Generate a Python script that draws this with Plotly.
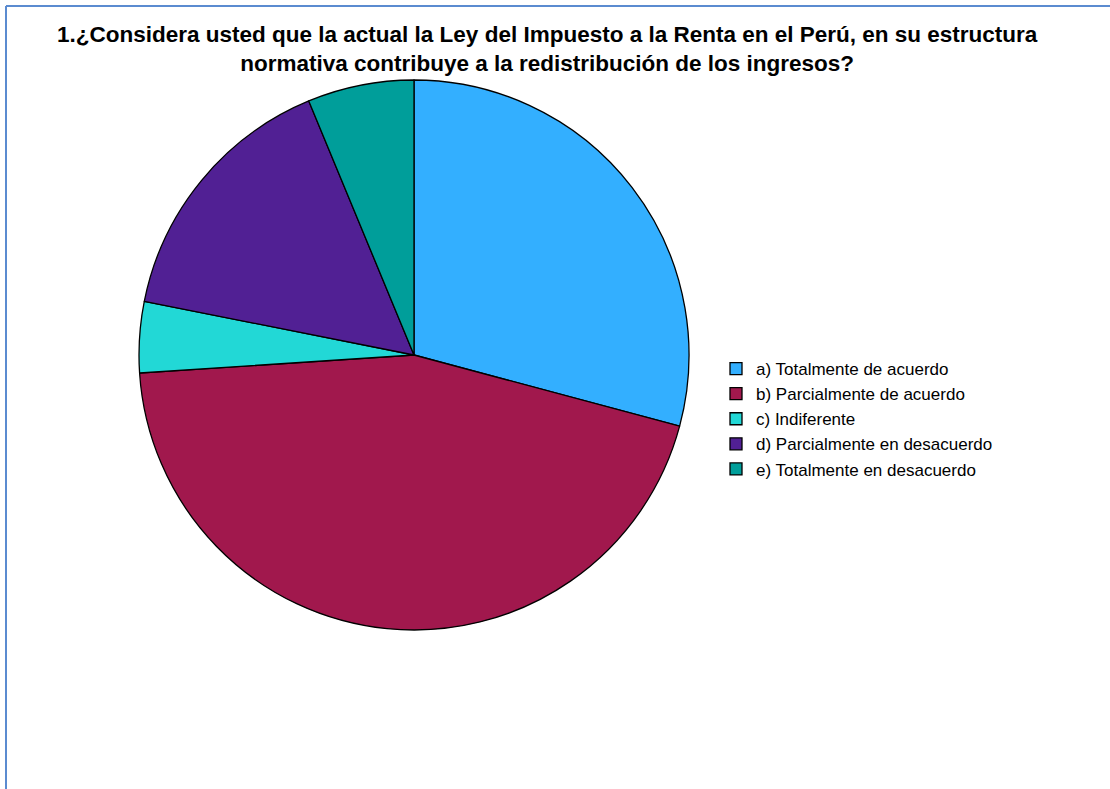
import plotly.graph_objects as go

categories = [
    "a) Totalmente de acuerdo",
    "b) Parcialmente de acuerdo",
    "c) Indiferente",
    "d) Parcialmente en desacuerdo",
    "e) Totalmente en desacuerdo",
]
values = [28, 43, 4, 15, 6]
colors = ["#33AFFF", "#A1184D", "#22D8D6", "#512094", "#009E9A"]
title_lines = [
    "1.¿Considera usted que la actual la Ley del Impuesto a la Renta en el Perú, en su estructura",
    "normativa contribuye a la redistribución de los ingresos?",
]

W, H = 1110, 789
FONT = "Arial, Liberation Sans, sans-serif"

fig = go.Figure(go.Pie(
    labels=categories,
    values=values,
    sort=False,
    direction="clockwise",
    rotation=0,
    textinfo="none",
    hoverinfo="label+percent",
    marker=dict(colors=colors, line=dict(color="black", width=1.3)),
    domain=dict(x=[(414 - 275) / W, (414 + 275) / W], y=[1 - 630 / H, 1 - 80 / H]),
))

fig.update_layout(
    width=W, height=H,
    font=dict(family=FONT, size=17, color="black"),
    legend=dict(x=716 / W, xanchor="left", y=1 - 419 / H, yanchor="middle",
                font=dict(size=17), itemwidth=30, tracegroupgap=0,
                bgcolor="rgba(0,0,0,0)"),
    margin=dict(l=0, r=0, t=0, b=0),
    paper_bgcolor="white",
    plot_bgcolor="white",
    annotations=[dict(
        text="<b>" + "<br>".join(title_lines) + "</b>", xref="paper", yref="paper",
        x=547 / W, xanchor="center", y=1 - 49 / H, yanchor="middle", align="center",
        showarrow=False, font=dict(family=FONT, size=22.5, color="black"),
    )],
    shapes=[
        dict(type="line", xref="paper", yref="paper", x0=6 / W, x1=1, y0=1 - 6 / H, y1=1 - 6 / H,
             line=dict(color="#5B8BD0", width=2)),
        dict(type="line", xref="paper", yref="paper", x0=6 / W, x1=6 / W, y0=0, y1=1 - 6 / H,
             line=dict(color="#5B8BD0", width=2)),
    ],
)

fig.write_html(
    "out.html",
    config={"displayModeBar": False},
    post_script="document.body.style.margin='0';document.body.style.overflow='hidden';"
                "Plotly.Plots.resize(document.getElementById('{plot_id}'));",
)
